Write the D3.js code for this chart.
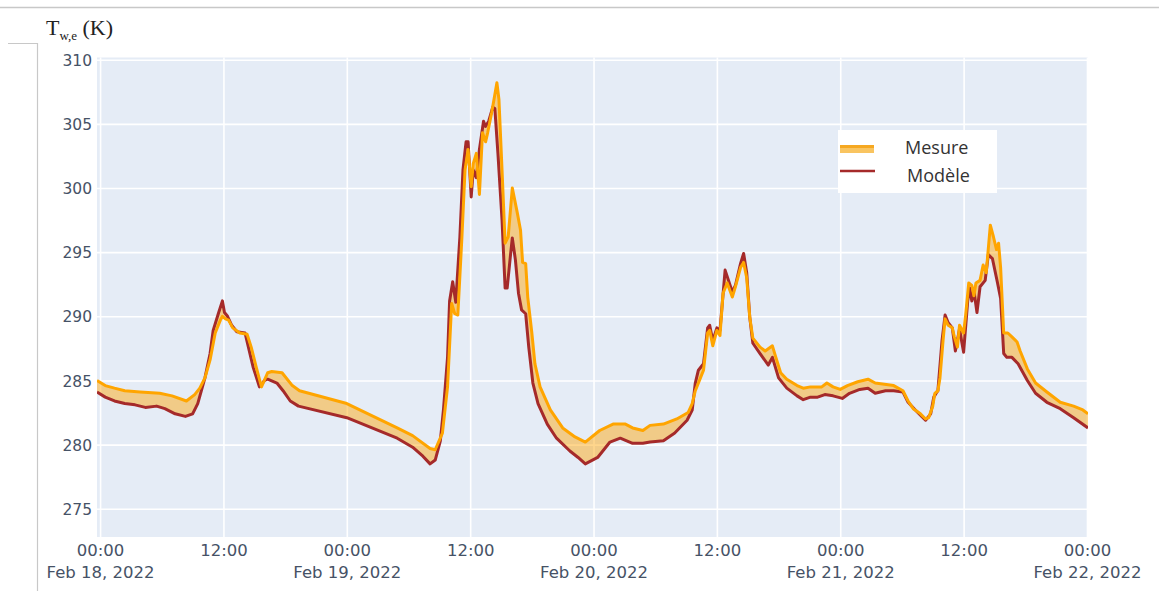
<!DOCTYPE html>
<html><head><meta charset="utf-8">
<script src="https://cdn.jsdelivr.net/npm/d3@7"></script>
<style>body{margin:0;background:#fff;} svg{display:block}</style>
</head><body>
<svg id="chart" width="1159" height="591"></svg>
<script>
// hours since 2022-02-18 00:00
const mesureHours = [-0.3,0.5,1.4,2.4,3.9,5.8,7.0,8.4,9.2,9.7,
10.2,10.7,11.2,11.7,11.9,12.2,12.5,12.9,13.6,14.3,
14.7,15.2,15.7,16.3,16.7,17.7,18.7,19.4,24.0,28.9,
30.4,32.1,32.6,33.3,33.8,34.2,34.5,34.8,35.2,35.5,
35.8,36.1,36.3,36.6,36.9,37.2,37.5,37.7,38.1,38.6,
38.8,39.1,39.4,39.7,40.1,40.6,40.9,41.1,41.4,41.6,
42.0,42.3,42.8,43.8,45.0,46.2,47.2,48.6,49.9,51.1,
51.8,52.8,53.5,54.8,56.1,57.2,57.6,57.9,58.4,58.7,
59.1,59.3,59.6,60.0,60.3,60.6,61.0,61.5,61.8,62.3,
62.6,62.9,63.2,63.5,64.2,64.7,65.4,65.7,66.2,66.8,
67.8,68.4,69.1,70.2,70.7,71.3,72.0,72.7,73.7,74.7,
75.4,77.2,78.1,78.6,79.1,79.8,80.3,80.6,81.0,81.2,
81.5,81.7,82.0,82.2,82.5,82.9,83.1,83.4,83.6,84.0,
84.2,84.5,84.8,85.0,85.2,85.6,85.9,86.2,86.6,86.9,
87.2,87.4,87.6,87.9,88.3,88.7,89.2,89.5,90.2,91.0,
92.1,93.4,94.7,95.6,96.1];
const mesureValues = [285.0,284.6,284.4,284.2,284.1,284.0,283.8,283.4,283.9,284.4,
285.2,286.6,288.7,289.7,290.0,289.8,289.7,289.1,288.7,288.6,
287.6,286.0,284.5,285.6,285.7,285.6,284.6,284.2,283.2,281.3,
280.7,279.7,279.6,280.9,284.5,291.0,290.2,290.1,296.2,301.4,
303.0,300.1,301.9,302.7,299.5,304.3,303.6,304.3,305.9,308.2,
306.9,301.4,295.7,296.2,300.0,298.0,296.7,294.2,294.1,291.5,
288.7,286.3,284.5,282.7,281.3,280.6,280.2,281.1,281.6,281.6,
281.3,281.1,281.5,281.6,282.0,282.5,283.2,284.2,285.2,285.8,
288.7,288.9,287.7,288.9,288.5,291.8,292.6,291.5,292.3,293.8,
294.2,293.0,289.9,288.3,287.6,287.3,287.7,286.9,285.6,285.1,
284.6,284.4,284.5,284.5,284.8,284.5,284.3,284.6,284.9,285.1,
284.8,284.6,284.2,283.4,282.8,282.4,282.0,282.1,283.0,284.0,
284.2,285.2,288.1,289.8,289.3,289.1,288.4,287.6,289.3,288.7,
290.1,292.6,292.4,291.6,292.6,292.8,294.0,293.4,297.1,296.2,
295.2,295.7,293.8,288.7,288.7,288.4,288.0,287.3,285.9,284.8,
284.1,283.3,283.0,282.7,282.4];

const modeleHours = [-0.3,0.5,1.4,2.4,3.4,4.4,5.5,6.3,7.3,8.3,
9.0,9.5,10.2,10.7,11.0,11.5,11.9,12.1,12.4,12.8,
13.3,14.1,14.9,15.5,16.0,16.3,17.2,17.8,18.5,19.3,
24.0,28.9,30.4,31.4,32.1,32.6,33.1,33.4,33.8,34.0,
34.3,34.6,35.0,35.3,35.6,35.8,36.1,36.3,36.6,36.9,
37.3,37.5,37.8,38.2,38.4,38.7,39.1,39.4,39.6,39.9,
40.1,40.4,40.7,41.0,41.4,41.7,42.1,42.6,43.5,44.4,
45.7,46.5,47.2,48.4,49.6,50.6,51.8,52.8,53.5,54.8,
55.9,57.1,57.6,57.9,58.2,58.7,59.1,59.3,59.6,60.0,
60.3,60.8,61.5,61.8,62.3,62.6,62.9,63.2,63.5,64.2,
65.0,65.4,66.0,66.8,67.8,68.4,69.1,69.8,70.5,71.3,
72.2,72.9,73.9,74.7,75.4,76.4,77.2,78.1,78.6,79.3,
79.8,80.3,80.8,81.1,81.4,81.5,81.9,82.2,82.5,82.9,
83.2,83.6,84.0,84.4,84.6,84.8,85.0,85.3,85.6,86.1,
86.4,86.8,87.3,87.6,87.9,88.2,88.7,89.3,90.2,91.0,
92.1,93.4,94.7,96.1];
const modeleValues = [284.1,283.7,283.4,283.2,283.1,282.9,283.0,282.8,282.4,282.2,
282.4,283.2,285.2,287.1,288.9,290.2,291.2,290.3,290.0,289.3,
288.8,288.7,286.0,284.5,285.0,285.1,284.8,284.2,283.4,283.0,
282.1,280.5,279.8,279.1,278.5,278.8,280.3,282.7,286.8,291.2,
292.7,291.1,296.2,301.4,303.6,303.6,299.3,301.4,300.8,303.0,
305.2,304.8,305.2,306.3,306.2,302.7,297.5,292.2,292.2,294.6,
296.1,294.4,291.8,290.5,290.2,287.6,284.8,283.2,281.6,280.5,
279.5,279.0,278.5,279.0,280.2,280.5,280.1,280.1,280.2,280.3,
280.9,281.9,282.7,284.8,285.8,286.3,289.1,289.3,288.1,289.1,
288.9,293.6,291.9,292.4,294.1,294.9,293.4,289.9,287.9,287.1,
286.2,286.8,285.2,284.4,283.8,283.5,283.7,283.7,283.9,283.8,
283.6,284.0,284.3,284.4,284.0,284.2,284.2,284.1,283.3,282.7,
282.3,281.9,282.4,283.7,284.1,284.2,288.1,290.1,289.5,289.1,
287.3,289.0,287.2,291.2,292.2,291.2,292.0,290.3,292.3,292.8,
294.8,294.5,292.6,291.4,287.1,286.8,286.8,286.3,285.0,284.0,
283.3,282.8,282.1,281.3];

const seriesNames = ["Mesure", "Modèle"];
const yTicks = [275, 280, 285, 290, 295, 300, 305, 310];
const xTickHours = [0, 12, 24, 36, 48, 60, 72, 84, 96];
const xTickTime = ["00:00","12:00","00:00","12:00","00:00","12:00","00:00","12:00","00:00"];
const xTickDate = ["Feb 18, 2022","","Feb 19, 2022","","Feb 20, 2022","","Feb 21, 2022","","Feb 22, 2022"];

const start = Date.UTC(2022, 1, 18, 0, 0);
const toDate = h => new Date(start + h * 3600e3);

const mesure = mesureHours.map((h, i) => ({t: toDate(h), v: mesureValues[i]}));
const modele = modeleHours.map((h, i) => ({t: toDate(h), v: modeleValues[i]}));

const svg = d3.select("#chart");
const L = 97, R = 1088, T = 57.5, B = 537;

const x = d3.scaleUtc().domain([toDate(-0.3), toDate(96.1)]).range([L, R]);
const y = d3.scaleLinear().domain([272.8, 310.17]).range([B, T]);

// decorations
svg.append("line").attr("x1", 0).attr("x2", 1159).attr("y1", 7.5).attr("y2", 7.5)
  .attr("stroke", "#c8c8c8").attr("stroke-width", 1.5);
svg.append("path").attr("d", "M8,43.5H37.5V591").attr("fill", "none")
  .attr("stroke", "#c8c8c8").attr("stroke-width", 1.2);

// plot bg
svg.append("rect").attr("x", L).attr("y", T).attr("width", R - L).attr("height", B - T)
  .attr("fill", "#e5ecf6");

svg.append("defs").append("clipPath").attr("id", "clip")
  .append("rect").attr("x", L).attr("y", T).attr("width", R - L).attr("height", B - T);

// grid
const gx = svg.append("g").attr("transform", `translate(0,${B})`)
  .call(d3.axisBottom(x).tickValues(xTickHours.map(toDate)).tickSize(-(B - T)).tickFormat(""));
gx.select(".domain").remove();
gx.selectAll("line").attr("stroke", "#fff").attr("stroke-width", 1.6);

const gy = svg.append("g").attr("transform", `translate(${L},0)`)
  .call(d3.axisLeft(y).tickValues(yTicks).tickSize(-(R - L)).tickFormat(""));
gy.select(".domain").remove();
gy.selectAll("line").attr("stroke", "#fff").attr("stroke-width", 1.6);

// y tick labels
gy.selectAll(".tick").append("text")
  .attr("x", -5).attr("dy", "0.36em").attr("text-anchor", "end")
  .attr("fill", "#465266").attr("font-family", "DejaVu Sans").attr("font-size", 15.5)
  .text(d => d);

// x tick labels
gx.selectAll(".tick").each(function(d, i) {
  const t = d3.select(this).append("text").attr("text-anchor", "middle")
    .attr("fill", "#465266").attr("font-family", "DejaVu Sans").attr("font-size", 16.5);
  t.append("tspan").attr("x", 0).attr("y", 19).text(xTickTime[i]);
  if (xTickDate[i]) t.append("tspan").attr("x", 0).attr("y", 41).text(xTickDate[i]);
});

// data
const g = svg.append("g").attr("clip-path", "url(#clip)");
const line = d3.line().x(d => x(d.t)).y(d => y(d.v));
const band = mesure.concat(modele.slice().reverse());
g.append("path").attr("d", line(band) + "Z")
  .attr("fill", "rgba(255,165,0,0.45)").attr("stroke", "none");
g.append("path").datum(modele).attr("d", line)
  .attr("fill", "none").attr("stroke", "#a52a2a").attr("stroke-width", 3)
  .attr("stroke-linejoin", "round");
g.append("path").datum(mesure).attr("d", line)
  .attr("fill", "none").attr("stroke", "#ffa500").attr("stroke-width", 3)
  .attr("stroke-linejoin", "round");

// legend
const lg = svg.append("g");
lg.append("rect").attr("x", 838).attr("y", 130).attr("width", 159).attr("height", 63).attr("fill", "#fff");
lg.append("rect").attr("x", 840).attr("y", 145).attr("width", 34).attr("height", 8).attr("fill", "#f9c460");
lg.append("line").attr("x1", 840).attr("x2", 874).attr("y1", 146.5).attr("y2", 146.5)
  .attr("stroke", "#f6a821").attr("stroke-width", 3);
lg.append("line").attr("x1", 840).attr("x2", 875).attr("y1", 171).attr("y2", 171)
  .attr("stroke", "#a52a2a").attr("stroke-width", 2.5);
lg.append("text").attr("x", 905).attr("y", 154).attr("font-family", "Open Sans")
  .attr("font-size", 18).attr("fill", "#333").text(seriesNames[0]);
lg.append("text").attr("x", 907).attr("y", 182).attr("font-family", "Open Sans")
  .attr("font-size", 18).attr("fill", "#333").text(seriesNames[1]);

// y title
const yt = svg.append("text").attr("x", 46).attr("y", 35)
  .attr("font-family", "Liberation Serif").attr("fill", "#222").attr("font-size", 22);
yt.append("tspan").text("T");
yt.append("tspan").attr("font-size", 13).attr("dy", 5).text("w,e");
yt.append("tspan").attr("dy", -5).text(" (K)");
</script>
</body></html>
